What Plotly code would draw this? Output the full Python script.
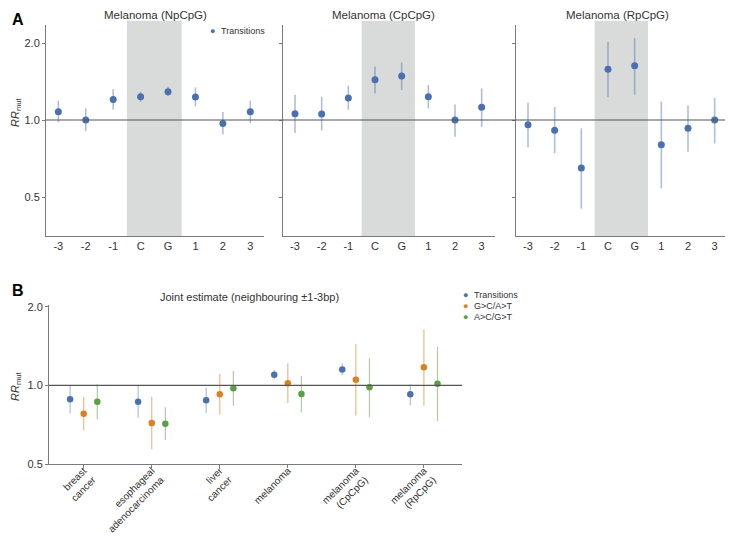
import math
import plotly.graph_objects as go

# ---------------- data ----------------
positions = ["-3", "-2", "-1", "C", "G", "1", "2", "3"]

np_rr = [1.078, 1.00, 1.204, 1.233, 1.29, 1.23, 0.97, 1.078]
np_hi = [1.19, 1.11, 1.32, 1.29, 1.35, 1.34, 1.075, 1.19]
np_lo = [0.98, 0.906, 1.10, 1.18, 1.24, 1.13, 0.88, 0.973]

cp_rr = [1.058, 1.055, 1.219, 1.438, 1.486, 1.233, 1.00, 1.121]
cp_hi = [1.256, 1.233, 1.36, 1.62, 1.68, 1.37, 1.15, 1.33]
cp_lo = [0.89, 0.91, 1.097, 1.27, 1.31, 1.11, 0.86, 0.94]

rp_rr = [0.959, 0.911, 0.649, 1.58, 1.63, 0.80, 0.928, 1.00]
rp_hi = [1.17, 1.124, 0.928, 2.02, 2.09, 1.18, 1.14, 1.22]
rp_lo = [0.782, 0.741, 0.45, 1.23, 1.256, 0.54, 0.752, 0.81]

cancers = ["breast<br>cancer", "esophageal<br>adenocarcinoma", "liver<br>cancer",
           "melanoma", "melanoma<br>(CpCpG)", "melanoma<br>(RpCpG)"]

trans_rr = [0.884, 0.866, 0.876, 1.098, 1.151, 0.924]
trans_hi = [1.00, 1.00, 0.98, 1.144, 1.214, 1.01]
trans_lo = [0.78, 0.752, 0.784, 1.054, 1.092, 0.839]

gc_rr = [0.779, 0.717, 0.924, 1.018, 1.05, 1.172]
gc_hi = [0.902, 0.905, 1.107, 1.214, 1.44, 1.637]
gc_lo = [0.673, 0.569, 0.772, 0.856, 0.765, 0.836]

ac_rr = [0.866, 0.713, 0.974, 0.926, 0.983, 1.014]
ac_hi = [1.01, 0.824, 1.134, 1.085, 1.27, 1.405]
ac_lo = [0.741, 0.618, 0.836, 0.788, 0.757, 0.73]

panel_a_titles = ["Melanoma (NpCpG)", "Melanoma (CpCpG)", "Melanoma (RpCpG)"]
series_names = ["Transitions", "G>C/A>T", "A>C/G>T"]

# ---------------- styles ----------------
# the page body adds an 8px margin, so the figure is drawn 8px smaller
OFF = 8
W, H = 733 - OFF, 537 - OFF
FONT = "Liberation Sans, Arial, Helvetica, sans-serif"
BLUE, ORANGE, GREEN = "#4a70b0", "#dd7f22", "#5a9e45"
ERR = {BLUE: "rgba(74,112,176,0.45)", ORANGE: "rgba(221,127,34,0.55)",
       GREEN: "rgba(90,158,69,0.5)"}
AXC = "#7a7a7a"
TXT = "#333333"


def px(x):
    return (x - OFF) / W


def py(y):
    return 1 - (y - OFF) / H


def errs(v, hi, lo):
    return [h - a for a, h in zip(v, hi)], [a - l for a, l in zip(v, lo)]


fig = go.Figure()

# ---------------- panel A ----------------
panel_a = [(np_rr, np_hi, np_lo), (cp_rr, cp_hi, cp_lo), (rp_rr, rp_hi, rp_lo)]
for k, (v, hi, lo) in enumerate(panel_a):
    up, dn = errs(v, hi, lo)
    sfx = "" if k == 0 else str(k + 1)
    fig.add_trace(go.Scatter(
        x=positions, y=v, mode="markers", name="Transitions",
        xaxis="x" + sfx, yaxis="y" + sfx,
        marker=dict(color=BLUE, size=7),
        error_y=dict(type="data", symmetric=False, array=up, arrayminus=dn,
                     color=ERR[BLUE], thickness=1.6, width=0),
        showlegend=False))

# ---------------- panel B ----------------
colors_b = [BLUE, ORANGE, GREEN]
for name, col, (v, hi, lo) in zip(series_names, colors_b,
                                  [(trans_rr, trans_hi, trans_lo),
                                   (gc_rr, gc_hi, gc_lo),
                                   (ac_rr, ac_hi, ac_lo)]):
    up, dn = errs(v, hi, lo)
    fig.add_trace(go.Scatter(
        x=cancers, y=v, mode="markers", name=name,
        xaxis="x4", yaxis="y4", offsetgroup=name,
        marker=dict(color=col, size=6.5),
        error_y=dict(type="data", symmetric=False, array=up, arrayminus=dn,
                     color=ERR[col], thickness=1.2, width=0),
        showlegend=False))

a_range = [math.log10(0.352), math.log10(2.352)]
b_range = [math.log10(0.5), math.log10(2.03)]

a_doms = [(46, 264), (283, 495), (516, 728)]
a_ydom = [py(236), py(25)]

ycommon = dict(type="log", showgrid=False, zeroline=False, showline=True,
               linecolor=AXC, linewidth=1, ticks="outside", ticklen=3,
               tickcolor=AXC, tickvals=[0.5, 1.0, 2.0],
               ticktext=["0.5", "1.0", "2.0"], automargin=False,
               tickfont=dict(size=11, color=TXT, family=FONT))
xcommon = dict(type="category", showgrid=False, zeroline=False, showline=True,
               linecolor=AXC, linewidth=1, automargin=False,
               tickfont=dict(size=11, color=TXT, family=FONT))

layout = dict(
    width=W, height=H, margin=dict(l=0, r=0, t=0, b=0, autoexpand=False),
    paper_bgcolor="white", plot_bgcolor="rgba(0,0,0,0)",
    font=dict(family=FONT, color=TXT),
    scattermode="group", scattergap=0.4, showlegend=False,
)
for k, (x0, x1) in enumerate(a_doms):
    sfx = "" if k == 0 else str(k + 1)
    layout["xaxis" + sfx] = dict(xcommon, domain=[px(x0), px(x1)],
                                 range=[-0.45, 7.5], ticks="",
                                 anchor="y" + sfx)
    layout["yaxis" + sfx] = dict(ycommon, domain=a_ydom, range=a_range,
                                 anchor="x" + sfx,
                                 showticklabels=(k == 0))
layout["xaxis4"] = dict(xcommon, domain=[px(49), px(462)], range=[-0.51, 5.56],
                        ticks="outside", ticklen=3, tickcolor=AXC,
                        tickangle=-45, anchor="y4", ticklabelstandoff=-7,
                        tickfont=dict(size=10, color=TXT, family=FONT))
layout["yaxis4"] = dict(ycommon, domain=[py(464), py(305)], range=b_range,
                        anchor="x4")
fig.update_layout(**layout)

# shapes: shaded C/G region and reference lines
shapes = []
for k in range(3):
    sfx = "" if k == 0 else str(k + 1)
    shapes.append(dict(type="rect", xref="x" + sfx, yref="y" + sfx + " domain",
                       x0=2.5, x1=4.5, y0=0, y1=1.02,
                       fillcolor="#d9dbdb", line=dict(width=0), layer="below"))
shapes.append(dict(type="line", xref="paper", yref="y", x0=px(46), x1=1,
                   y0=1.0, y1=1.0, line=dict(color="#555555", width=1.2)))
shapes.append(dict(type="line", xref="x4 domain", yref="y4", x0=0, x1=1,
                   y0=1.0, y1=1.0, line=dict(color="#555555", width=1.2)))
fig.update_layout(shapes=shapes)

# annotations
ann = []
ann.append(dict(text="<b>A</b>", x=px(10), y=py(9), xref="paper", yref="paper",
                showarrow=False, font=dict(size=16, color="black", family=FONT),
                xanchor="left", yanchor="top"))
ann.append(dict(text="<b>B</b>", x=px(10), y=py(290), xref="paper", yref="paper",
                showarrow=False, font=dict(size=16, color="black", family=FONT),
                xanchor="left", yanchor="middle"))
for t, cx in zip(panel_a_titles, [155, 383, 617]):
    ann.append(dict(text=t, x=px(cx), y=py(15), xref="paper", yref="paper",
                    showarrow=False, font=dict(size=11.5, color=TXT, family=FONT),
                    xanchor="center", yanchor="middle"))
ann.append(dict(text="Joint estimate (neighbouring \u00b11-3bp)", x=px(250),
                y=py(297), xref="paper", yref="paper", showarrow=False,
                font=dict(size=11, color=TXT, family=FONT),
                xanchor="center", yanchor="middle"))
for cy in [112, 386]:
    ann.append(dict(text="<i>RR</i><sub>mut</sub>", x=px(16), y=py(cy),
                    xref="paper", yref="paper", showarrow=False, textangle=-90,
                    font=dict(size=11, color=TXT, family=FONT),
                    xanchor="center", yanchor="middle"))


# legends (marker glyph + label)
def legend_rows(names, cols, x_dot, y_top, step):
    out = []
    for i, (nm, c) in enumerate(zip(names, cols)):
        yy = y_top + i * step
        out.append(dict(text="\u25cf", x=px(x_dot), y=py(yy), xref="paper",
                        yref="paper", showarrow=False, xanchor="center",
                        yanchor="middle", font=dict(size=9, color=c, family=FONT)))
        out.append(dict(text=nm, x=px(x_dot + 7), y=py(yy), xref="paper",
                        yref="paper", showarrow=False, xanchor="left",
                        yanchor="middle", font=dict(size=9, color=TXT, family=FONT)))
    return out


ann += legend_rows(series_names[:1], colors_b[:1], 212, 31, 11)
ann += legend_rows(series_names, colors_b, 465, 295, 11)
fig.update_layout(annotations=ann)

fig.write_html("out.html")
